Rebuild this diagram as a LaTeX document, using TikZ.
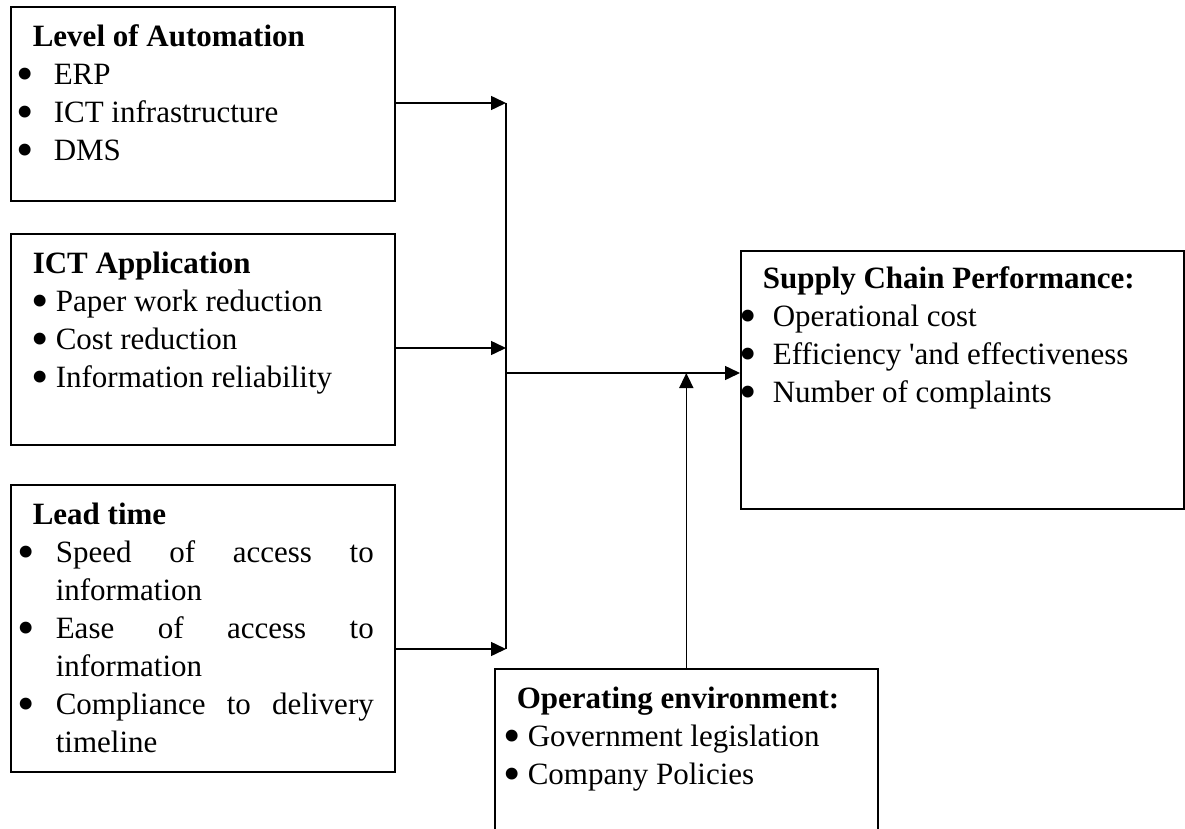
\documentclass[tikz,border=0pt]{standalone}
\usepackage{fontspec}
\usepackage{graphicx}
\setmainfont{Liberation Serif}
\usetikzlibrary{arrows.meta,calc}

\newcommand{\boxLineW}{1.6pt}
\newcommand{\flowLineW}{1.5pt}
\newcommand{\bigdot}{\raisebox{-5.5pt}{\scalebox{1.6}{\textbullet}}}

% bullet list: #1 = text indent, #2 = bullet centre (both from the frame)
\newenvironment{factorlist}[2]{%
  \list{\makebox[0pt]{\bigdot}}{%
    \setlength{\leftmargin}{#1}\setlength{\labelwidth}{0pt}%
    \setlength{\labelsep}{\dimexpr#1-#2\relax}\setlength{\itemindent}{0pt}%
    \setlength{\rightmargin}{21pt}\setlength{\listparindent}{0pt}%
    \setlength{\topsep}{0pt}\setlength{\partopsep}{0pt}%
    \setlength{\parsep}{0pt}\setlength{\itemsep}{0pt}}}%
  {\endlist}
\newcommand{\factortitle}[2][40pt]{\noindent\hspace*{22pt}\rule{0pt}{#1}\textbf{#2}\par}

\tikzset{
  factor/.style={draw, line width=\boxLineW, inner sep=0pt, anchor=north west,
    font=\fontsize{31}{38}\selectfont},
  flow/.style={line width=\flowLineW, -{Triangle[length=15pt,width=14pt]}},
}

\begin{document}
\begin{tikzpicture}[x=1pt, y=-1pt]
  \useasboundingbox (0,0) rectangle (1185,829);
  \clip (0,0) rectangle (1185,829);

  % ===== Left column: independent factors =====
  \node[factor] (auto) at (10,6) {\parbox[c][194pt][t]{384pt}{%
    \factortitle{Level of Automation}
    \begin{factorlist}{43pt}{14pt}
      \item ERP
      \item ICT infrastructure
      \item DMS
    \end{factorlist}}};

  \node[factor] (ict) at (10,233) {\parbox[c][211pt][t]{384pt}{%
    \factortitle{ICT Application}
    \begin{factorlist}{45pt}{29pt}
      \item Paper work reduction
      \item Cost reduction
      \item Information reliability
    \end{factorlist}}};

  \node[factor] (lead) at (10,484) {\parbox[c][287pt][t]{384pt}{%
    \hyphenpenalty=10000 \tolerance=10000
    \factortitle{Lead time}
    \begin{factorlist}{45pt}{15pt}
      \item Speed of access to information
      \item Ease of access to information
      \item Compliance to delivery timeline
    \end{factorlist}}};

  % ===== Right: outcome and moderator =====
  \node[factor] (scp) at (740,250) {\parbox[c][258pt][t]{443pt}{%
    \factortitle[38pt]{Supply Chain Performance:}
    \begin{factorlist}{32pt}{7pt}
      \item Operational cost
      \item Efficiency \textquotesingle and effectiveness
      \item Number of complaints
    \end{factorlist}}};

  \node[factor] (env) at (494,668) {\parbox[c][172pt][t]{383pt}{%
    \factortitle{Operating environment:}
    \begin{factorlist}{33pt}{17pt}
      \item Government legislation
      \item Company Policies
    \end{factorlist}}};

  % ===== Connectors =====
  \coordinate (busA) at (506,103);
  \coordinate (busB) at (506,348);
  \coordinate (busC) at (506,649);
  \coordinate (join) at (506,373);

  \draw[flow] (auto.east |- busA) -- (busA);
  \draw[flow] (ict.east |- busB) -- (busB);
  \draw[flow] (lead.east |- busC) -- (busC);
  \draw[line width=\flowLineW] (busA) -- (busC);
  \draw[flow] (join) -- (join -| scp.west);
  \draw[flow] (env.north) -- (env.north |- join);
\end{tikzpicture}
\end{document}
